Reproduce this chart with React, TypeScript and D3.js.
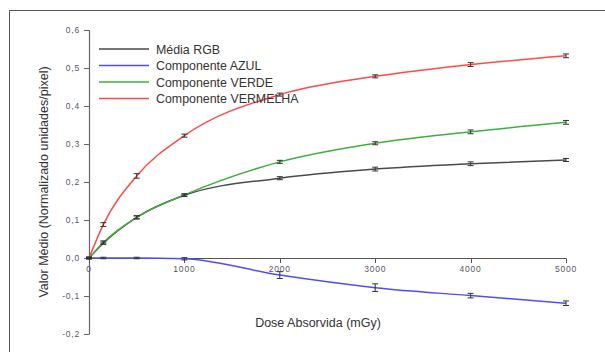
import React from 'react';
import * as d3 from 'd3';

const doses = [0, 150, 500, 1000, 2000, 3000, 4000, 5000];

const mediaRGB = [0, 0.039, 0.107, 0.165, 0.21, 0.234, 0.248, 0.258];
const azul = [0, 0, 0, -0.002, -0.045, -0.078, -0.099, -0.119];
const verde = [0, 0.041, 0.107, 0.166, 0.253, 0.302, 0.332, 0.357];
const vermelha = [0, 0.088, 0.216, 0.322, 0.43, 0.478, 0.509, 0.532];

const errMedia = [0.002, 0.003, 0.004, 0.003, 0.004, 0.005, 0.005, 0.004];
const errAzul = [0.002, 0.002, 0.002, 0.003, 0.009, 0.01, 0.006, 0.006];
const errVerde = [0.002, 0.004, 0.004, 0.003, 0.004, 0.004, 0.005, 0.005];
const errVermelha = [0.002, 0.005, 0.006, 0.004, 0.004, 0.004, 0.005, 0.005];

const yTicks = [0.6, 0.5, 0.4, 0.3, 0.2, 0.1, 0.0, -0.1, -0.2];
const xTicks = [0, 1000, 2000, 3000, 4000, 5000];

const series = [
    { name: 'Média RGB', values: mediaRGB, err: errMedia, color: '#4a4a4a' },
    { name: 'Componente AZUL', values: azul, err: errAzul, color: '#4d4dff' },
    { name: 'Componente VERDE', values: verde, err: errVerde, color: '#3fae3f' },
    { name: 'Componente VERMELHA', values: vermelha, err: errVermelha, color: '#ff4a4a' },
];

const drawOrder = [1, 0, 2, 3];

export default function App() {
    const width = 605;
    const height = 352;

    const x = d3.scaleLinear().domain([0, 5000]).range([89, 566]);
    const y = d3.scaleLinear().domain([-0.2, 0.6]).range([334, 30]);

    const line = d3.line<number>()
        .x((d, i) => x(doses[i]))
        .y(d => y(d))
        .curve(d3.curveMonotoneX);

    const fmt = (v: number) => d3.format('.1f')(v).replace('−', '-').replace('.', ',');
    const font = 'Liberation Sans, Arial, sans-serif';

    return (
        <svg width={width} height={height} style={{ position: 'absolute', left: 0, top: 0, background: '#fff' }}>
            {/* frame */}
            <line x1={9.5} y1={10.5} x2={605} y2={10.5} stroke="#555" strokeWidth={1} />
            <line x1={9.5} y1={10.5} x2={9.5} y2={352} stroke="#555" strokeWidth={1} />

            {/* y axis */}
            <line x1={89.5} y1={y(0.6)} x2={89.5} y2={y(-0.2)} stroke="#666" strokeWidth={1.2} />
            {yTicks.map(t => (
                <g key={'yt' + t}>
                    <line x1={84} x2={89.5} y1={Math.round(y(t)) + 0.5} y2={Math.round(y(t)) + 0.5} stroke="#666" />
                    <text x={80} y={y(t) + 3} textAnchor="end" fontSize={8.5} fill="#556" fontFamily={font} letterSpacing={0.8}>{fmt(t)}</text>
                </g>
            ))}

            {/* x axis */}
            <line x1={89} x2={566} y1={258.5} y2={258.5} stroke="#555" strokeWidth={1} />
            {xTicks.map(t => (
                <g key={'xt' + t}>
                    <line x1={Math.round(x(t)) + 0.5} x2={Math.round(x(t)) + 0.5} y1={258.5} y2={263} stroke="#555" />
                    <text x={x(t)} y={272} textAnchor="middle" fontSize={8.5} fill="#556" fontFamily={font} letterSpacing={0.8}>{t}</text>
                </g>
            ))}

            {/* lines */}
            {drawOrder.map(k => {
                const s = series[k];
                return <path key={s.name} d={line(s.values) || ''} fill="none" stroke={s.color} strokeWidth={1.5} />;
            })}

            {/* error bars */}
            {drawOrder.map(k => {
                const s = series[k];
                return (
                    <g key={'e' + s.name} stroke="#333" strokeWidth={1}>
                        {s.values.map((v, i) => {
                            const cx = x(doses[i]);
                            const y1 = y(v + s.err[i]);
                            const y2 = y(v - s.err[i]);
                            return (
                                <g key={i}>
                                    <line x1={cx} x2={cx} y1={y1} y2={y2} />
                                    <line x1={cx - 3} x2={cx + 3} y1={y1} y2={y1} />
                                    <line x1={cx - 3} x2={cx + 3} y1={y2} y2={y2} />
                                </g>
                            );
                        })}
                    </g>
                );
            })}

            {/* legend */}
            {series.map((s, i) => (
                <g key={'lg' + s.name} transform={`translate(99,${49 + i * 16.5})`}>
                    <line x1={0} x2={50} y1={0} y2={0} stroke={s.color} strokeWidth={1.5} />
                    <text x={57} y={4.5} fontSize={12.4} fill="#333" fontFamily={font}>{s.name}</text>
                </g>
            ))}

            {/* axis titles */}
            <text transform="translate(48,182) rotate(-90)" textAnchor="middle" fontSize={12.5} fill="#333" fontFamily={font}>
                Valor Médio (Normalizado unidades/pixel)
            </text>
            <text x={318} y={327} textAnchor="middle" fontSize={12.5} fill="#333" fontFamily={font}>
                Dose Absorvida (mGy)
            </text>
        </svg>
    );
}
